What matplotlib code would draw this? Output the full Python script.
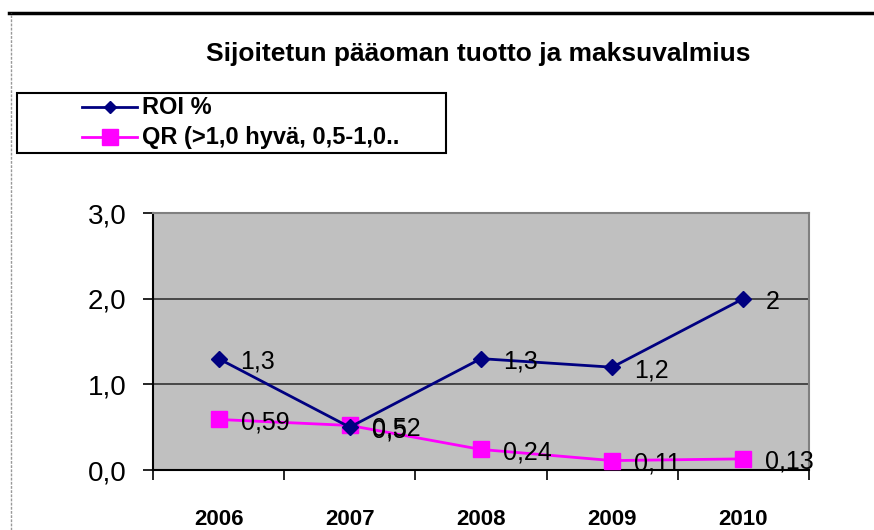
import matplotlib.pyplot as plt
from matplotlib.lines import Line2D
from matplotlib.patches import Rectangle

years = ["2006", "2007", "2008", "2009", "2010"]
roi = [1.3, 0.5, 1.3, 1.2, 2.0]
roi_labels = ["1,3", "0,5", "1,3", "1,2", "2"]
qr = [0.59, 0.52, 0.24, 0.11, 0.13]
qr_labels = ["0,59", "0,52", "0,24", "0,11", "0,13"]
yticks = [0.0, 1.0, 2.0, 3.0]
ytick_labels = ["0,0", "1,0", "2,0", "3,0"]
series_names = ["ROI %", "QR (>1,0 hyvä, 0,5-1,0.."]

plt.rcParams['font.family'] = ['Liberation Sans', 'DejaVu Sans']

NAVY = '#000080'
MAGENTA = '#FF00FF'

fig = plt.figure(figsize=(8.74, 5.30), dpi=100)
ax = fig.add_axes([0.175, 0.1132, 0.7506, 0.4849])
ax.set_facecolor('#C0C0C0')

x = list(range(len(years)))
ax.plot(x, roi, color=NAVY, lw=2, marker='D', ms=8, zorder=4)
ax.plot(x, qr, color=MAGENTA, lw=2, marker='s', ms=11, zorder=3)

for xi, v, lab in zip(x, roi, roi_labels):
    ax.annotate(lab, (xi, v), xytext=(22, -3), textcoords='offset pixels',
                ha='left', va='center', fontsize=18, zorder=5)
for xi, v, lab in zip(x, qr, qr_labels):
    ax.annotate(lab, (xi, v), xytext=(22, -3), textcoords='offset pixels',
                ha='left', va='center', fontsize=18, zorder=5)

ax.set_xlim(-0.5, 4.5)
ax.set_ylim(0, 3)
ax.set_yticks(yticks)
ax.set_yticklabels(ytick_labels, fontsize=20)
ax.set_xticks([i + 0.5 for i in range(-1, 5)])
ax.set_xticklabels([])
ax.set_xticks(x, minor=True)
ax.set_xticklabels(years, minor=True, fontsize=16, fontweight='bold')
ax.tick_params(axis='x', which='minor', length=0, pad=28)
ax.tick_params(axis='x', which='major', length=7, width=1.2, color='black')
ax.tick_params(axis='y', length=7, width=1.2, color='black', pad=12)
ax.grid(axis='y', color='#333333', lw=1.2)
ax.set_axisbelow(True)
for side in ['top', 'right']:
    ax.spines[side].set_color('#808080')
    ax.spines[side].set_linewidth(1.5)
for side in ['left', 'bottom']:
    ax.spines[side].set_color('black')
    ax.spines[side].set_linewidth(1.5)

fig.text(0.547, 0.898, "Sijoitetun pääoman tuotto ja maksuvalmius",
         ha='center', va='center', fontsize=19, fontweight='bold')

# legend box drawn by hand, in figure pixels
W, H = 874, 530
def fx(px):
    return px / W
def fy(py):
    return 1 - py / H

fig.add_artist(Rectangle((fx(17), fy(153)), fx(446) - fx(17), fy(93) - fy(153),
                         transform=fig.transFigure, fill=False,
                         edgecolor='black', lw=1.5))
legend_rows = [(107, NAVY, 'D', 6), (137, MAGENTA, 's', 11)]
for (py, col, mk, ms), name in zip(legend_rows, series_names):
    fig.add_artist(Line2D([fx(82), fx(137)], [fy(py), fy(py)], color=col, lw=2,
                          transform=fig.transFigure))
    fig.add_artist(Line2D([fx(109.5)], [fy(py)], color=col, marker=mk, ms=ms,
                          transform=fig.transFigure))
    fig.text(fx(142), fy(py + 1), name, ha='left', va='center',
             fontsize=17, fontweight='bold')

# outer frame of the chart object
fig.add_artist(Line2D([0.010, 1.0], [0.975, 0.975], color='black', lw=2.5,
                      transform=fig.transFigure))
fig.add_artist(Line2D([0.013, 0.013], [0.0, 0.975], color='#999999', lw=1,
                      ls=(0, (2, 1)), transform=fig.transFigure))

fig.savefig('out.png', dpi=100)
